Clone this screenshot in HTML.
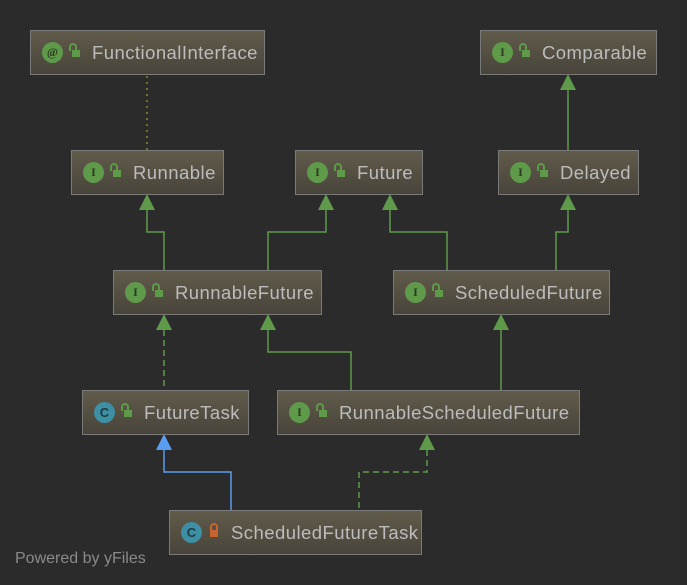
<!DOCTYPE html>
<html><head><meta charset="utf-8"><style>
body{margin:0;background:#2b2b2b;width:687px;height:585px;overflow:hidden;position:relative;font-family:"Segoe UI","Liberation Sans",sans-serif}
.b{position:absolute;box-sizing:border-box;height:45px;border:1px solid #7a7a7a;background:linear-gradient(#615b4b,#48443a);color:#bcbcbc;font-size:18.5px;letter-spacing:0.45px;line-height:44px;white-space:nowrap}
.ic{position:absolute;left:11px;top:11px;width:21px;height:21px;border-radius:50%;background:#5e9a4a;color:#2b3a22;font:bold 12px "Liberation Serif",serif;letter-spacing:0;text-align:center;line-height:21px}
.c{background:#3d8fa3;color:#1d3b44;font:bold 13px "Liberation Sans",sans-serif;line-height:21px}
.lk{position:absolute;left:41px;top:19px;width:8px;height:7px;background:#5e9a4a}
.lk:before{content:"";position:absolute;left:-3px;top:-7px;width:4px;height:6px;border:2px solid #5e9a4a;border-bottom:none;border-radius:4px 4px 0 0}
.lk.r{background:#c8622e;left:40px}.lk.r:before{border-color:#c8622e;left:0}
.t{position:absolute;left:61px;top:0}
svg{position:absolute;left:0;top:0}
.pw{position:absolute;left:15px;top:550px;color:#8a8a8a;font-size:16px;font-family:"Liberation Sans",sans-serif}
</style></head><body>
<svg width="687" height="585">
<g fill="none" stroke="#5e9a4a" stroke-width="1.5">
<path d="M147 76V150" stroke="#8a8a2a" stroke-dasharray="2,4"/>
<path d="M568 90V150"/>
<path d="M147 210V232H164V270"/>
<path d="M326 210V232H268V270"/>
<path d="M390 210V232H447V270"/>
<path d="M568 210V232H556V270"/>
<path d="M164 330V390" stroke-dasharray="6,4"/>
<path d="M268 330V352H351V390"/>
<path d="M501 330V390"/>
<path d="M427 450V472H359V510" stroke-dasharray="6,4"/>
<path d="M164 450V472H231V510" stroke="#589df0"/>
</g>
<g fill="#5e9a4a">
<path d="M568 74l-8 16h16z"/>
<path d="M147 194l-8 16h16z"/>
<path d="M326 194l-8 16h16z"/>
<path d="M390 194l-8 16h16z"/>
<path d="M568 194l-8 16h16z"/>
<path d="M164 314l-8 16h16z"/>
<path d="M268 314l-8 16h16z"/>
<path d="M501 314l-8 16h16z"/>
<path d="M427 434l-8 16h16z"/>
<path d="M164 434l-8 16h16z" fill="#589df0"/>
</g>
</svg>
<div class="b" style="left:30px;top:30px;width:235px"><div class="ic">@</div><div class="lk"></div><span class="t">FunctionalInterface</span></div>
<div class="b" style="left:480px;top:30px;width:177px"><div class="ic">I</div><div class="lk"></div><span class="t">Comparable</span></div>
<div class="b" style="left:71px;top:150px;width:153px"><div class="ic">I</div><div class="lk"></div><span class="t">Runnable</span></div>
<div class="b" style="left:295px;top:150px;width:128px"><div class="ic">I</div><div class="lk"></div><span class="t">Future</span></div>
<div class="b" style="left:498px;top:150px;width:141px"><div class="ic">I</div><div class="lk"></div><span class="t">Delayed</span></div>
<div class="b" style="left:113px;top:270px;width:209px"><div class="ic">I</div><div class="lk"></div><span class="t">RunnableFuture</span></div>
<div class="b" style="left:393px;top:270px;width:217px"><div class="ic">I</div><div class="lk"></div><span class="t">ScheduledFuture</span></div>
<div class="b" style="left:82px;top:390px;width:167px"><div class="ic c">C</div><div class="lk"></div><span class="t">FutureTask</span></div>
<div class="b" style="left:277px;top:390px;width:303px"><div class="ic">I</div><div class="lk"></div><span class="t">RunnableScheduledFuture</span></div>
<div class="b" style="left:169px;top:510px;width:253px"><div class="ic c">C</div><div class="lk r"></div><span class="t">ScheduledFutureTask</span></div>
<div class="pw">Powered by yFiles</div>
</body></html>
